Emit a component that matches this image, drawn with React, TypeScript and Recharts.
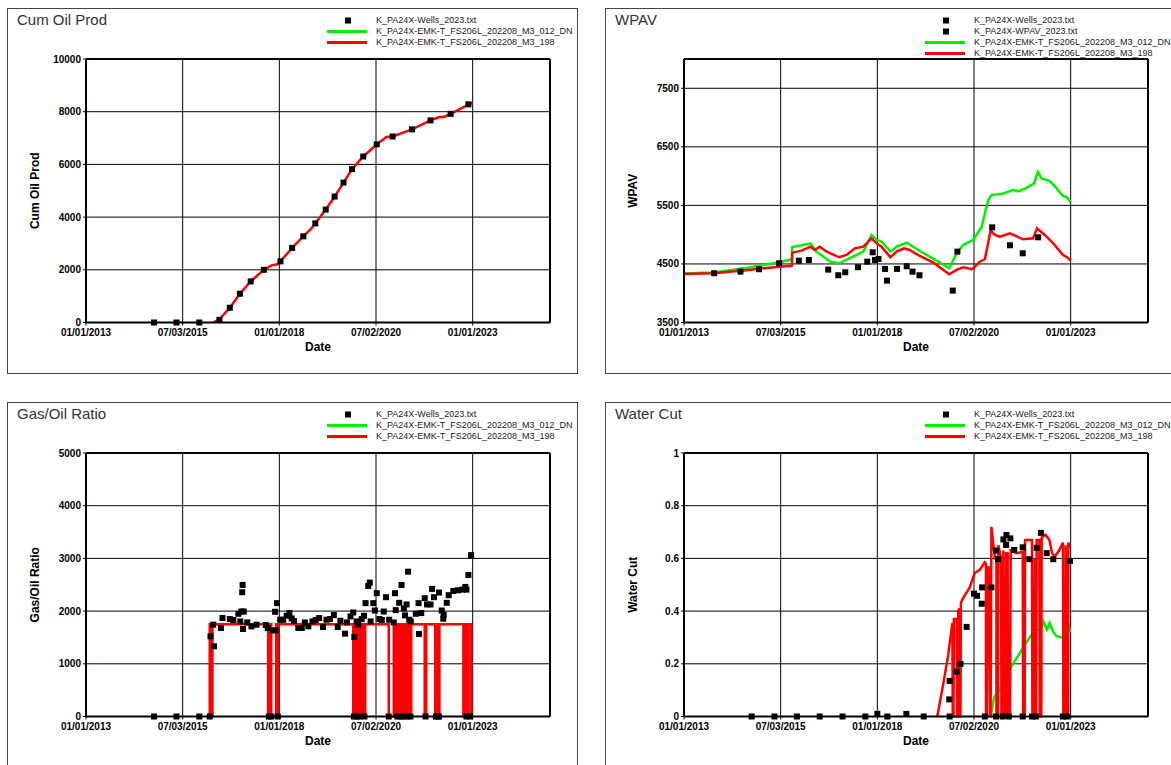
import React from 'react';
import { ComposedChart, Line, Scatter, XAxis, YAxis, CartesianGrid } from 'recharts';

type Pt = [number, number];

const FONT = '"Liberation Sans", Arial, Helvetica, sans-serif';
const RED = '#ff0000';
const GREEN = '#00f000';

// date axis, in decimal years
const DATE_TICKS = [2013, 2015.5, 2018, 2020.5, 2023];
const DATE_LABELS = ['01/01/2013', '07/03/2015', '01/01/2018', '07/02/2020', '01/01/2023'];
const DATE_MINOR = [2014.25, 2016.75, 2019.25, 2021.75, 2024.25];

const WELLS = 'K_PA24X-Wells_2023.txt';
const WPAV_FILE = 'K_PA24X-WPAV_2023.txt';
const RUN_012 = 'K_PA24X-EMK-T_FS206L_202208_M3_012_DN';
const RUN_198 = 'K_PA24X-EMK-T_FS206L_202208_M3_198';

// Cum Oil Prod
const cumOilWells: Pt[] = [
  [2014.76, 0], [2015.34, 0], [2015.93, 0], [2016.45, 100], [2016.72, 560], [2016.98, 1090],
  [2017.26, 1560], [2017.6, 2000], [2018.03, 2320], [2018.33, 2830], [2018.62, 3270],
  [2018.93, 3760], [2019.2, 4285], [2019.43, 4780], [2019.66, 5310], [2019.88, 5820],
  [2020.17, 6300], [2020.52, 6760], [2020.93, 7060], [2021.43, 7330], [2021.91, 7670],
  [2022.43, 7920], [2022.89, 8280],
];
const cumOil198: Pt[] = [
  [2016.29, 0], [2016.45, 120], [2016.72, 560], [2016.98, 1090], [2017.26, 1560], [2017.6, 2000],
  [2017.8, 2170], [2017.95, 2210], [2018.03, 2320], [2018.33, 2830], [2018.62, 3270], [2018.8, 3520],
  [2018.93, 3760], [2019.2, 4285], [2019.43, 4780], [2019.66, 5310], [2019.88, 5820], [2020.17, 6300],
  [2020.52, 6760], [2020.77, 7040], [2020.93, 7060], [2021.43, 7330], [2021.91, 7670], [2022.12, 7790],
  [2022.27, 7810], [2022.43, 7920], [2022.89, 8270], [2023.0, 8330],
];

// WPAV
const wpavWells: Pt[] = [
  [2013.78, 4342], [2014.46, 4369], [2014.94, 4410], [2015.46, 4512], [2015.97, 4556], [2016.23, 4568],
  [2016.73, 4403], [2016.99, 4307], [2017.17, 4358], [2017.5, 4444], [2017.74, 4539], [2017.88, 4699],
  [2017.94, 4568], [2018.03, 4585], [2018.2, 4415], [2018.25, 4215], [2018.51, 4415], [2018.76, 4461],
  [2018.91, 4369], [2019.09, 4307], [2019.95, 4045], [2020.07, 4710], [2020.97, 5125], [2021.43, 4819],
  [2021.76, 4682], [2022.16, 4955],
];
const wpav012: Pt[] = [
  [2013.0, 4335], [2013.76, 4355], [2014.6, 4430], [2015.48, 4530], [2015.79, 4580], [2015.8, 4790],
  [2016.04, 4820], [2016.27, 4852], [2016.43, 4710], [2016.78, 4539], [2017.01, 4511], [2017.37, 4625],
  [2017.64, 4710], [2017.85, 4994], [2017.98, 4909], [2018.11, 4881], [2018.34, 4710], [2018.5, 4795],
  [2018.76, 4863], [2019.1, 4721], [2019.62, 4522], [2019.86, 4427], [2020.05, 4682], [2020.22, 4824],
  [2020.48, 4909], [2020.7, 5136], [2020.78, 5363], [2020.87, 5590], [2020.95, 5676], [2021.26, 5704],
  [2021.51, 5761], [2021.65, 5740], [2021.85, 5800], [2022.05, 5870], [2022.15, 6070], [2022.25, 5960],
  [2022.45, 5920], [2022.6, 5820], [2022.8, 5660], [2022.9, 5640], [2023.0, 5560],
];
const wpav198: Pt[] = [
  [2013.0, 4330], [2013.76, 4340], [2014.6, 4393], [2015.48, 4454], [2015.79, 4470], [2015.8, 4693],
  [2016.04, 4727], [2016.27, 4795], [2016.38, 4738], [2016.51, 4795], [2016.69, 4710], [2017.01, 4614],
  [2017.2, 4653], [2017.42, 4767], [2017.64, 4795], [2017.85, 4937], [2017.98, 4852], [2018.11, 4795],
  [2018.34, 4614], [2018.5, 4710], [2018.69, 4767], [2018.84, 4738], [2019.1, 4636], [2019.45, 4522],
  [2019.86, 4324], [2020.05, 4398], [2020.22, 4444], [2020.46, 4410], [2020.65, 4539], [2020.78, 4580],
  [2020.93, 5070], [2021.04, 4995], [2021.17, 4967], [2021.43, 5023], [2021.77, 4921], [2022.03, 4938],
  [2022.13, 5108], [2022.33, 4995], [2022.55, 4852], [2022.8, 4653], [2022.9, 4620], [2023.0, 4556],
];

// Gas/Oil Ratio
const gorWells: Pt[] = [
  [2014.76, 0], [2015.34, 0], [2015.93, 0], [2016.2, 0], [2017.73, 0], [2017.79, 0], [2017.96, 0],
  [2019.93, 0], [2020.0, 0], [2020.07, 0], [2020.2, 0], [2020.83, 0], [2021.05, 0], [2021.13, 0],
  [2021.2, 0], [2021.3, 0], [2021.39, 0], [2021.78, 0], [2022.05, 0], [2022.1, 0], [2022.13, 0],
  [2022.84, 0], [2022.93, 0],
  [2016.22, 1521], [2016.31, 1332], [2016.29, 1742], [2016.49, 1679], [2016.53, 1868], [2016.72, 1849],
  [2016.81, 1830], [2016.94, 1949], [2017.02, 1992], [2017.08, 1992], [2017.04, 2358], [2017.05, 2496],
  [2017.06, 1660], [2016.99, 1804], [2017.17, 1785], [2017.28, 1710], [2017.41, 1742], [2017.65, 1736],
  [2017.7, 1679], [2017.83, 1634], [2017.9, 1634], [2017.89, 1987], [2017.94, 2151], [2018.02, 1836],
  [2018.1, 1836], [2018.19, 1911], [2018.26, 1962], [2018.32, 1860], [2018.38, 1811], [2018.49, 1679],
  [2018.58, 1679], [2018.66, 1785], [2018.75, 1710], [2018.86, 1804], [2018.94, 1830], [2019.03, 1868],
  [2019.13, 1698], [2019.22, 1836], [2019.31, 1849], [2019.41, 1924], [2019.51, 1698], [2019.58, 1817],
  [2019.7, 1572], [2019.75, 1785], [2019.84, 1899], [2019.91, 1974], [2019.94, 1509], [2020.0, 1804],
  [2020.04, 1742], [2020.13, 1849], [2020.19, 1911], [2020.23, 2151], [2020.3, 2477], [2020.34, 2540],
  [2020.36, 1804], [2020.43, 2151], [2020.52, 2340], [2020.47, 2011], [2020.59, 1849], [2020.65, 1830],
  [2020.7, 1992], [2020.76, 2264], [2020.84, 1836], [2020.96, 1785], [2020.99, 2340], [2021.01, 2018],
  [2021.1, 2157], [2021.16, 2496], [2021.22, 2050], [2021.25, 1918], [2021.29, 2126], [2021.33, 2748],
  [2021.36, 1836], [2021.4, 1804], [2021.53, 1949], [2021.6, 2151], [2021.61, 1565], [2021.67, 1962],
  [2021.76, 2245], [2021.82, 2126], [2021.91, 2126], [2021.95, 2421], [2022.0, 2264], [2022.13, 2352],
  [2022.2, 2011], [2022.24, 1855], [2022.25, 1930], [2022.33, 2157], [2022.38, 2302], [2022.5, 2383],
  [2022.62, 2396], [2022.74, 2408], [2022.81, 2459], [2022.84, 2408], [2022.89, 2685], [2022.96, 3062],
];
const gor198: Pt[] = [
  [2016.2, 0], [2016.2, 1750], [2016.23, 1750], [2016.23, 0], [2016.27, 0], [2016.27, 1750],
  [2017.71, 1750], [2017.71, 0], [2017.74, 0], [2017.74, 1750], [2017.79, 1750], [2017.79, 0],
  [2017.92, 0], [2017.92, 1750], [2017.94, 1750], [2017.94, 0], [2017.97, 0], [2017.97, 1750],
  [2019.91, 1750], [2019.91, 0], [2019.94, 0], [2019.94, 1750], [2019.97, 1750], [2019.97, 0],
  [2020.01, 0], [2020.01, 1750], [2020.04, 1750], [2020.04, 0], [2020.08, 0], [2020.08, 1750],
  [2020.1, 1750], [2020.1, 0], [2020.15, 0], [2020.15, 1750], [2020.18, 1750], [2020.18, 0],
  [2020.22, 0], [2020.22, 1750], [2020.83, 1750], [2020.83, 0], [2020.96, 0], [2020.96, 1750],
  [2021.0, 1750], [2021.0, 0], [2021.03, 0], [2021.03, 1750], [2021.08, 1750], [2021.08, 0],
  [2021.11, 0], [2021.11, 1750], [2021.14, 1750], [2021.14, 0], [2021.17, 0], [2021.17, 1750],
  [2021.21, 1750], [2021.21, 0], [2021.25, 0], [2021.25, 1750], [2021.29, 1750], [2021.29, 0],
  [2021.32, 0], [2021.32, 1750], [2021.37, 1750], [2021.37, 0], [2021.41, 0], [2021.41, 1750],
  [2021.76, 1750], [2021.76, 0], [2021.8, 0], [2021.8, 1750], [2022.03, 1750], [2022.03, 0],
  [2022.07, 0], [2022.07, 1750], [2022.1, 1750], [2022.1, 0], [2022.14, 0], [2022.14, 1750],
  [2022.76, 1750], [2022.76, 0], [2022.8, 0], [2022.8, 1750], [2022.85, 1750], [2022.85, 0],
  [2022.89, 0], [2022.89, 1750], [2022.96, 1750], [2022.96, 0],
];

// Water Cut
const wcutWells: Pt[] = [
  [2014.75, 0], [2015.34, 0], [2015.92, 0], [2016.51, 0], [2017.1, 0], [2017.69, 0], [2018.0, 0.01],
  [2018.26, 0], [2018.75, 0.01], [2019.2, 0], [2019.87, 0], [2020.78, 0], [2021.07, 0], [2021.24, 0],
  [2021.4, 0], [2021.76, 0], [2022.0, 0], [2022.1, 0], [2022.8, 0], [2022.9, 0],
  [2019.86, 0.065], [2019.87, 0.135], [2020.05, 0.17], [2020.15, 0.2], [2020.31, 0.34], [2020.5, 0.466],
  [2020.58, 0.458], [2020.7, 0.428], [2020.71, 0.49], [2020.95, 0.49], [2021.07, 0.63], [2021.12, 0.597],
  [2021.26, 0.672], [2021.33, 0.651], [2021.34, 0.689], [2021.44, 0.676], [2021.54, 0.632],
  [2021.76, 0.642], [2021.93, 0.597], [2022.12, 0.64], [2022.23, 0.697], [2022.38, 0.62],
  [2022.55, 0.597], [2022.98, 0.59],
];
const wcut012: Pt[] = [
  [2020.74, 0], [2020.95, 0.005], [2021.0, 0.06], [2021.04, 0.078], [2021.17, 0.105], [2021.3, 0.14],
  [2021.43, 0.18], [2021.55, 0.21], [2021.69, 0.242], [2021.85, 0.28], [2021.99, 0.31], [2022.1, 0.33],
  [2022.2, 0.325], [2022.25, 0.34], [2022.3, 0.36], [2022.38, 0.33], [2022.46, 0.355], [2022.55, 0.32],
  [2022.64, 0.305], [2022.81, 0.298], [2022.94, 0.355], [2022.98, 0.32],
];
const wcut198: Pt[] = [
  [2019.55, 0], [2019.7, 0.12], [2019.83, 0.23], [2019.94, 0.355], [2019.95, 0], [2019.97, 0],
  [2019.98, 0.37], [2020.05, 0.37], [2020.06, 0], [2020.08, 0], [2020.09, 0.4], [2020.12, 0.41],
  [2020.13, 0], [2020.15, 0], [2020.16, 0.43], [2020.22, 0.45], [2020.39, 0.49], [2020.52, 0.545],
  [2020.65, 0.557], [2020.78, 0.585], [2020.81, 0.58], [2020.81, 0], [2020.84, 0], [2020.84, 0.55],
  [2020.88, 0.57], [2020.92, 0], [2020.93, 0], [2020.95, 0.72], [2021.04, 0.6], [2021.08, 0.6],
  [2021.08, 0], [2021.12, 0], [2021.13, 0.65], [2021.2, 0.6], [2021.21, 0], [2021.24, 0],
  [2021.26, 0.63], [2021.28, 0], [2021.32, 0], [2021.33, 0.62], [2021.37, 0.62], [2021.38, 0],
  [2021.43, 0], [2021.45, 0.63], [2021.6, 0.62], [2021.76, 0.625], [2021.77, 0], [2021.81, 0],
  [2021.82, 0.67], [2022.0, 0.67], [2022.01, 0], [2022.06, 0], [2022.07, 0.6], [2022.08, 0],
  [2022.11, 0], [2022.12, 0.67], [2022.19, 0.67], [2022.2, 0], [2022.24, 0], [2022.25, 0.68],
  [2022.35, 0.69], [2022.45, 0.67], [2022.52, 0.62], [2022.59, 0.607], [2022.7, 0.63], [2022.8, 0.66],
  [2022.81, 0], [2022.86, 0], [2022.87, 0.65], [2022.91, 0], [2022.93, 0], [2022.94, 0.66],
  [2022.98, 0.64],
];

const rows = (pts: Pt[]) => pts.map(([x, y]) => ({ x, y }));
const fmtDate = (v: number) => DATE_LABELS[DATE_TICKS.indexOf(v)] ?? '';

const Square = (p: any) => <rect x={p.cx - 3} y={p.cy - 3} width={6} height={6} fill="#000" />;

const W = 571;
const H = 366;

type LegendItem = { name: string; kind: 'dot' | 'line'; color: string };

const stdLegend: LegendItem[] = [
  { name: WELLS, kind: 'dot', color: '#000' },
  { name: RUN_012, kind: 'line', color: GREEN },
  { name: RUN_198, kind: 'line', color: RED },
];
const wpavLegend: LegendItem[] = [
  { name: WELLS, kind: 'dot', color: '#000' },
  { name: WPAV_FILE, kind: 'dot', color: '#000' },
  { name: RUN_012, kind: 'line', color: GREEN },
  { name: RUN_198, kind: 'line', color: RED },
];

type PanelProps = {
  left: number; top: number; title: string; yLabel: string;
  yDomain: [number, number]; yTicks: number[]; yMinor: number[];
  legend: LegendItem[]; wells: Pt[]; green?: Pt[]; red?: Pt[];
};

const tickStyle = { fontSize: 10, fontWeight: 700, fill: '#000' };

const Panel = ({ left, top, title, yLabel, yDomain, yTicks, yMinor, legend, wells, green, red }: PanelProps) => (
  <div style={{ position: 'absolute', left, top, width: W, height: H }}>
    <div style={{ position: 'absolute', left: 0, top: 0 }}>
      <ComposedChart width={W} height={H} margin={{ top: 51, right: 28, bottom: 21.5, left: 19 }}>
        <CartesianGrid stroke="#000" strokeWidth={1} />
        <XAxis
          dataKey="x" type="number" domain={[2013, 2025]} ticks={DATE_TICKS} interval={0}
          tickFormatter={fmtDate} height={30} tickSize={3} tickMargin={3} stroke="#000"
          axisLine={{ stroke: '#000', strokeWidth: 2 }} tick={tickStyle}
          label={{ value: 'Date', position: 'insideBottom', offset: 2, fontSize: 12, fontWeight: 700, fill: '#000' }}
        />
        <XAxis
          xAxisId="minor" dataKey="x" type="number" domain={[2013, 2025]} ticks={DATE_MINOR} interval={0}
          mirror tick={false} axisLine={false} tickSize={5} stroke="#000" height={5}
        />
        <XAxis
          xAxisId="top" orientation="top" dataKey="x" type="number" domain={[2013, 2025]} mirror
          tick={false} tickLine={false} axisLine={{ stroke: '#000', strokeWidth: 2 }} height={1}
        />
        <YAxis
          type="number" domain={yDomain} ticks={yTicks} interval={0} width={60} tickSize={3} tickMargin={2}
          stroke="#000" axisLine={{ stroke: '#000', strokeWidth: 2 }} tick={tickStyle}
          label={{ value: yLabel, angle: -90, position: 'insideLeft', offset: 9, style: { textAnchor: 'middle' }, fontSize: 12, fontWeight: 700, fill: '#000' }}
        />
        <YAxis
          yAxisId="minor" type="number" domain={yDomain} ticks={yMinor} interval={0} mirror
          tick={false} axisLine={false} tickSize={5} stroke="#000" width={5}
        />
        <YAxis
          yAxisId="right" orientation="right" type="number" domain={yDomain} mirror
          tick={false} tickLine={false} axisLine={{ stroke: '#000', strokeWidth: 2 }} width={1}
        />
        {green && (
          <Line data={rows(green)} dataKey="y" type="linear" stroke={GREEN} strokeWidth={2.5}
            dot={false} activeDot={false} isAnimationActive={false} />
        )}
        {red && (
          <Line data={rows(red)} dataKey="y" type="linear" stroke={RED} strokeWidth={2.5}
            dot={false} activeDot={false} isAnimationActive={false} />
        )}
        <Scatter data={rows(wells)} dataKey="y" shape={Square} isAnimationActive={false} />
      </ComposedChart>
    </div>
    <div style={{ position: 'absolute', inset: 0, border: '1px solid #444', boxSizing: 'border-box', pointerEvents: 'none' }} />
    <div style={{ position: 'absolute', left: 10, top: 3, fontSize: 15, lineHeight: '18px', color: '#333' }}>{title}</div>
    {legend.map((item, i) => (
      <div key={i} style={{ position: 'absolute', left: 320, top: 7 + i * 11, width: 260, height: 11 }}>
        <svg width={40} height={11} style={{ position: 'absolute', left: 0, top: 0 }}>
          {item.kind === 'dot'
            ? <rect x={18} y={2.5} width={6} height={6} fill="#000" />
            : <line x1={0} x2={40} y1={5.5} y2={5.5} stroke={item.color} strokeWidth={3} />}
        </svg>
        <span style={{ position: 'absolute', left: 49, top: 0, fontSize: 9, lineHeight: '11px', color: '#222', whiteSpace: 'nowrap' }}>
          {item.name}
        </span>
      </div>
    ))}
  </div>
);

export default function App() {
  return (
    <div style={{ position: 'absolute', left: 0, top: 0, width: 1171, height: 765, overflow: 'hidden', background: '#fff', fontFamily: FONT }}>
      <Panel left={7} top={8} title="Cum Oil Prod" yLabel="Cum Oil Prod"
        yDomain={[0, 10000]} yTicks={[0, 2000, 4000, 6000, 8000, 10000]} yMinor={[1000, 3000, 5000, 7000, 9000]}
        legend={stdLegend} wells={cumOilWells} red={cumOil198} />
      <Panel left={605} top={8} title="WPAV" yLabel="WPAV"
        yDomain={[3500, 8000]} yTicks={[3500, 4500, 5500, 6500, 7500]} yMinor={[4000, 5000, 6000, 7000]}
        legend={wpavLegend} wells={wpavWells} green={wpav012} red={wpav198} />
      <Panel left={7} top={402} title="Gas/Oil Ratio" yLabel="Gas/Oil Ratio"
        yDomain={[0, 5000]} yTicks={[0, 1000, 2000, 3000, 4000, 5000]} yMinor={[500, 1500, 2500, 3500, 4500]}
        legend={stdLegend} wells={gorWells} red={gor198} />
      <Panel left={605} top={402} title="Water Cut" yLabel="Water Cut"
        yDomain={[0, 1]} yTicks={[0, 0.2, 0.4, 0.6, 0.8, 1]} yMinor={[0.1, 0.3, 0.5, 0.7, 0.9]}
        legend={stdLegend} wells={wcutWells} green={wcut012} red={wcut198} />
    </div>
  );
}
